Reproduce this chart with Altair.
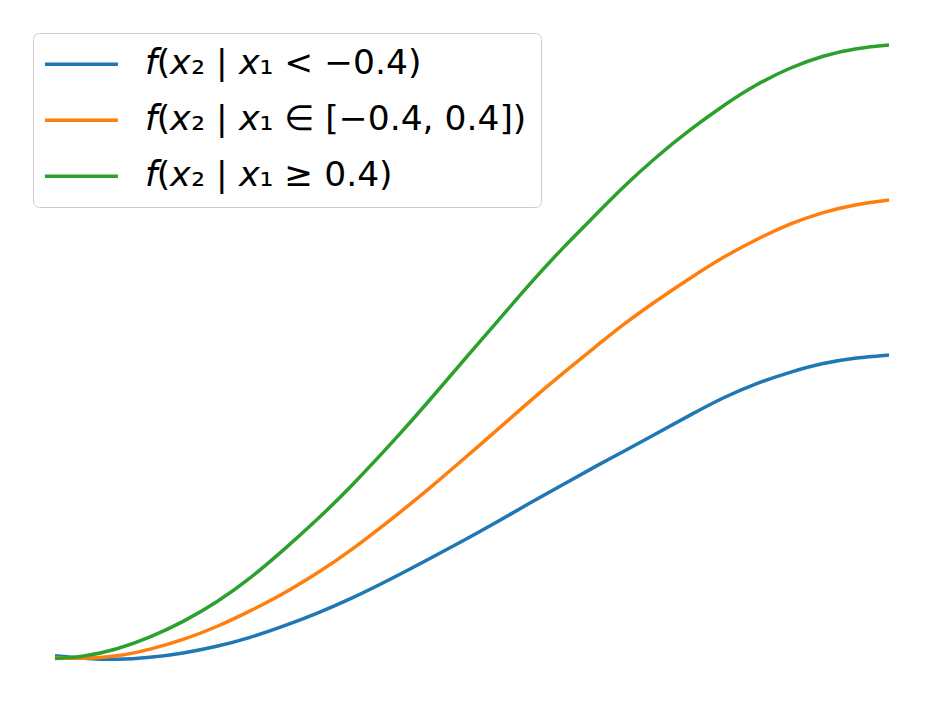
import altair as alt
import pandas as pd

# x2 positions
x2 = [-1.000, -0.933, -0.851, -0.772, -0.693, -0.612, -0.532, -0.453, -0.372, -0.293,
      -0.180, -0.101, -0.022, 0.060, 0.139, 0.218, 0.300, 0.362, 0.444, 0.523,
      0.602, 0.683, 0.763, 0.842, 0.923, 1.000]

# f(x2 | x1 < -0.4)
f_low = [0.0046, 0.0003, -0.0024, 0.0013, 0.0085, 0.0192, 0.0339, 0.0522, 0.0734, 0.0962,
         0.1346, 0.1631, 0.1917, 0.2227, 0.2537, 0.2838, 0.3148, 0.3374, 0.3674, 0.3972,
         0.4258, 0.4494, 0.4674, 0.4821, 0.4910, 0.4951]

# f(x2 | x1 in [-0.4, 0.4])
f_mid = [0.0016, -0.0008, 0.0033, 0.0147, 0.0302, 0.0514, 0.0775, 0.1052, 0.1387, 0.1746,
         0.2341, 0.2781, 0.3243, 0.3728, 0.4201, 0.4657, 0.5106, 0.5449, 0.5848, 0.6207,
         0.6550, 0.6843, 0.7096, 0.7284, 0.7414, 0.7480]

# f(x2 | x1 >= 0.4)
f_high = [0.0000, 0.0024, 0.0147, 0.0343, 0.0595, 0.0914, 0.1305, 0.1762, 0.2259, 0.2781,
          0.3605, 0.4217, 0.4853, 0.5489, 0.6117, 0.6705, 0.7259, 0.7692, 0.8197, 0.8630,
          0.9021, 0.9372, 0.9641, 0.9837, 0.9959, 1.0008]

labels = [
    "\U0001D627(\U0001D639\u2082 | \U0001D639\u2081 < \u22120.4)",
    "\U0001D627(\U0001D639\u2082 | \U0001D639\u2081 \u2208 [\u22120.4, 0.4])",
    "\U0001D627(\U0001D639\u2082 | \U0001D639\u2081 \u2265 0.4)",
]
colors = ["#1f77b4", "#ff7f0e", "#2ca02c"]

rows = []
for lab, ys in zip(labels, [f_low, f_mid, f_high]):
    for xv, yv in zip(x2, ys):
        rows.append({"x2": xv, "f": yv, "series": lab})
df = pd.DataFrame(rows)

chart = alt.Chart(df).mark_line(strokeWidth=3.5, interpolate="basis").encode(
    x=alt.X("x2:Q", axis=None,
            scale=alt.Scale(domain=[-1.1127, 1.0935], nice=False, zero=False)),
    y=alt.Y("f:Q", axis=None,
            scale=alt.Scale(domain=[-0.0628, 1.0612], nice=False, zero=False)),
    color=alt.Color(
        "series:N", sort=labels,
        scale=alt.Scale(domain=labels, range=colors),
        legend=alt.Legend(
            title=None, orient="none", legendX=25, legendY=25,
            symbolType="M-5,0H5", symbolSize=213, symbolStrokeWidth=3.5,
            symbolOffset=17.2,
            labelFontSize=34.5, labelFont="DejaVu Sans", labelColor="black",
            labelOffset=46, labelLimit=1000, padding=14,
            fillColor="white", strokeColor="#cccccc", cornerRadius=6,
            rowPadding=21,
        ),
    ),
).properties(width=920, height=689, padding=0).configure_view(stroke=None)

chart.save("out.html", embed_options={"renderer": "svg", "actions": False})
